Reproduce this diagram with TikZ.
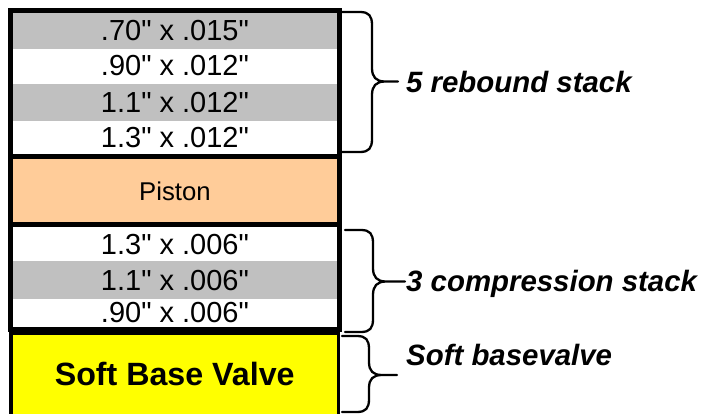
\documentclass[tikz,border=0pt]{standalone}
\usepackage{fontspec}
\setmainfont{Liberation Sans}
\definecolor{rowgray}{HTML}{C0C0C0}
\definecolor{pistoncol}{HTML}{FFCC99}
\definecolor{valvecol}{HTML}{FFFF00}
\newcommand{\qd}{\textquotedbl}
\begin{document}
\begin{tikzpicture}[x=1pt,y=-1pt,
  cell/.style={rectangle,anchor=north west,inner sep=0pt,minimum width=324.5pt,
    font=\fontsize{29}{31}\selectfont},
  frame/.style={draw=black,line width=5pt},
  bracestyle/.style={draw=black,line width=2.3pt,line cap=round,line join=round},
  lbl/.style={anchor=base west,inner sep=0pt,font=\fontsize{29.4}{31}\selectfont\bfseries\itshape}]
\useasboundingbox (0,0) rectangle (702,413);
% rebound stack
\node[cell,fill=rowgray,minimum height=36.3pt] (r1) at (12.5,12) {.70\qd{} x .015\qd};
\node[cell,fill=white,minimum height=35pt] (r2) at (12.5,48.3) {.90\qd{} x .012\qd};
\node[cell,fill=rowgray,minimum height=37.4pt] (r3) at (12.5,83.3) {1.1\qd{} x .012\qd};
\node[cell,fill=white,minimum height=33.3pt] (r4) at (12.5,120.7) {1.3\qd{} x .012\qd};
% piston
\node[cell,fill=pistoncol,minimum height=65.5pt,font=\fontsize{25.7}{28}\selectfont] (piston) at (12.5,158) {Piston};
% compression stack
\node[cell,fill=white,minimum height=34pt] (c1) at (12.5,227) {1.3\qd{} x .006\qd};
\node[cell,fill=rowgray,minimum height=38pt] (c2) at (12.5,261) {1.1\qd{} x .006\qd};
\node[cell,fill=white,minimum height=27pt] (c3) at (12.5,299) {.90\qd{} x .006\qd};
% base valve
\node[cell,fill=valvecol,minimum height=80pt,minimum width=327pt,font=\fontsize{32.2}{34}\selectfont\bfseries] (valve) at (11,334) {Soft Base Valve};
% frames
\draw[frame] (10,10) rectangle (339.5,156.5);
\draw[frame] (10,156.5) rectangle (339.5,224.5);
\draw[frame] (10,224.5) rectangle (339.5,329);
\draw[draw=black,line width=3.5pt] (11,420) -- (11,333.5) -- (338.7,333.5) -- (338.7,420);
% braces
\draw[bracestyle] (342,12) -- (360,12) .. controls (369,12) and (372,16) .. (372,25) -- (372,68)
  .. controls (372,77) and (376,81.5) .. (385,81.5) -- (398,81.5)
  (385,81.5) .. controls (376,81.5) and (372,86) .. (372,95) -- (372,139)
  .. controls (372,148) and (369,152) .. (360,152) -- (342,152);
\draw[bracestyle] (345,230) -- (361,230) .. controls (370,230) and (373,234) .. (373,243) -- (373,268)
  .. controls (373,277) and (377,281.5) .. (386,281.5) -- (405,281.5)
  (386,281.5) .. controls (377,281.5) and (373,286) .. (373,295) -- (373,319)
  .. controls (373,328) and (370,332) .. (361,332) -- (345,332);
\draw[bracestyle] (342,336) -- (357,336) .. controls (366,336) and (369,340) .. (369,349) -- (369,362)
  .. controls (369,371) and (373,375) .. (382,375) -- (397,375)
  (382,375) .. controls (373,375) and (369,379) .. (369,388) -- (369,399)
  .. controls (369,408) and (366,412) .. (357,412) -- (342,412);
% labels
\node[lbl] (lrebound) at (406,92.7) {5 rebound stack};
\node[lbl] (lcomp) at (406,291) {3 compression stack};
\node[lbl] (lvalve) at (406,365.7) {Soft basevalve};
\end{tikzpicture}
\end{document}
